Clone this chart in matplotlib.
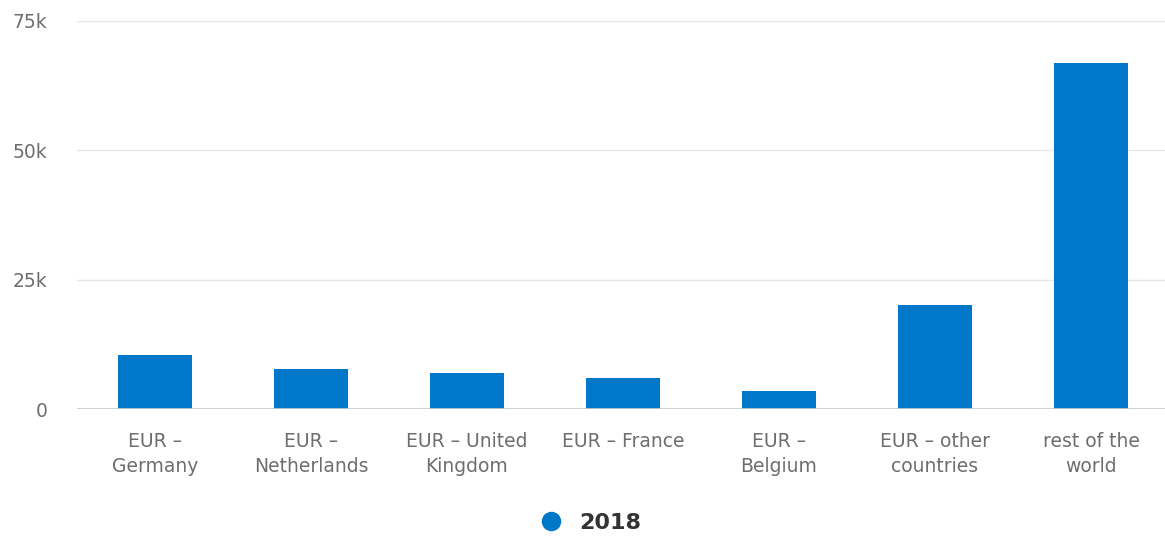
import matplotlib.pyplot as plt
from matplotlib.lines import Line2D
from matplotlib.ticker import FuncFormatter

categories = ['EUR –\nGermany', 'EUR –\nNetherlands', 'EUR – United\nKingdom',
              'EUR – France', 'EUR –\nBelgium', 'EUR – other\ncountries',
              'rest of the\nworld']
values_2018 = [10500, 7850, 7050, 6000, 3600, 20150, 66950]
y_ticks = [0, 25000, 50000, 75000]

bar_color = '#0077c8'
text_color = '#6e6e6e'

plt.rcParams['font.family'] = ['DejaVu Sans']

fig = plt.figure(figsize=(11.65, 5.44), dpi=100)
ax = fig.add_axes([0.066, 0.2476, 0.9375, 0.7138])

x = range(len(categories))
ax.bar(x, values_2018, width=0.475, color=bar_color, zorder=3)

ax.set_xlim(-0.5, len(categories) - 0.5)
ax.set_ylim(0, 75000)
ax.set_yticks(y_ticks)
ax.yaxis.set_major_formatter(FuncFormatter(lambda v, p: '0' if v == 0 else f'{int(v / 1000)}k'))
ax.set_xticks(list(x))
ax.set_xticklabels(categories, linespacing=1.45)

ax.grid(axis='y', color='#e6e6e6', linewidth=1, zorder=0)
ax.axhline(0, color='#cccccc', linewidth=1.2, zorder=4)
for s in ax.spines.values():
    s.set_visible(False)

ax.tick_params(axis='x', length=0, pad=16, labelsize=13.5, labelcolor=text_color)
ax.tick_params(axis='y', length=0, pad=21, labelsize=13.5, labelcolor=text_color)
for lbl in ax.get_yticklabels():
    lbl.set_horizontalalignment('right')

handle = Line2D([], [], marker='o', linestyle='none', markersize=13,
                markerfacecolor=bar_color, markeredgecolor=bar_color)
fig.legend([handle], ['2018'], loc='center', bbox_to_anchor=(585 / 1165, 1 - 523 / 544),
           frameon=False, handletextpad=0.25, prop={'size': 16, 'weight': 'bold'},
           labelcolor='#333333')

plt.savefig('out.png', dpi=100)
